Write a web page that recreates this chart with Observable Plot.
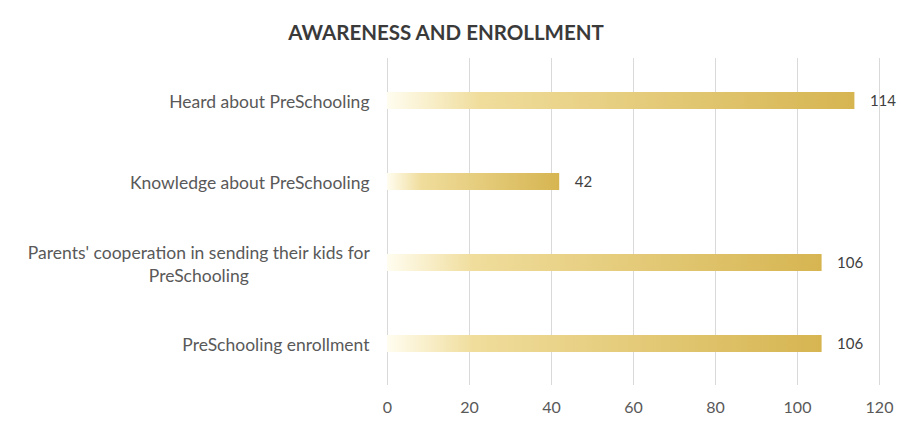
<!DOCTYPE html>
<html>
<head>
<meta charset="utf-8">
<script src="https://cdn.jsdelivr.net/npm/d3@7"></script>
<script src="https://cdn.jsdelivr.net/npm/@observablehq/plot@0.6"></script>
<style>
  body { margin: 0; background: #fff; }
  #title { height: 50px; width: 892px; padding-right: 16px; text-align: center; font-family: Lato, sans-serif; font-weight: bold; font-size: 20.5px; color: #3a3a3a; line-height: 64px; }
  svg text { font-family: Lato, sans-serif; }
</style>
</head>
<body>
<div id="title">AWARENESS AND ENROLLMENT</div>
<div id="chart"></div>
<script>
const categories = [
  "Heard about PreSchooling",
  "Knowledge about PreSchooling",
  "Parents' cooperation in sending their kids for\nPreSchooling",
  "PreSchooling enrollment"
];
const values = [114, 42, 106, 106];
const xTicks = [0, 20, 40, 60, 80, 100, 120];

const data = categories.map((c, i) => ({category: c, value: values[i]}));

const chart = Plot.plot({
  width: 908,
  height: 378,
  marginTop: 8,
  marginBottom: 43,
  marginLeft: 387,
  marginRight: 29,
  style: {fontSize: "16px", color: "#595959", background: "#fff"},
  x: {domain: [0, 120], ticks: xTicks, label: null},
  y: {domain: categories, padding: 0, label: null},
  marks: [
    Plot.gridX(xTicks, {stroke: "#d9d9d9", strokeOpacity: 1}),
    Plot.barX(data, {x: "value", y: "category", fill: "url(#goldGrad)", insetTop: 32, insetBottom: 32}),
    Plot.text(data, {x: "value", y: "category", text: d => String(d.value), dx: 15, textAnchor: "start", fill: "#404040", fontSize: 15}),
    Plot.axisX({ticks: xTicks, tickSize: 0, tickPadding: 16, fontSize: 16, color: "#595959"}),
    Plot.axisY({tickSize: 0, tickPadding: 18, fontSize: 17.5, color: "#595959", lineWidth: 100, lineHeight: 1.3})
  ]
});

const defs = document.createElementNS("http://www.w3.org/2000/svg", "defs");
defs.innerHTML = `<linearGradient id="goldGrad" x1="0" x2="1" y1="0" y2="0">
  <stop offset="0" stop-color="#fffdf0"/>
  <stop offset="0.2" stop-color="#f0dd9c"/>
  <stop offset="1" stop-color="#d6b551"/>
</linearGradient>`;
chart.insertBefore(defs, chart.firstChild);
document.getElementById("chart").appendChild(chart);

// Center the lines of the wrapped category label within its right-aligned block
chart.querySelectorAll("text").forEach(t => {
  const spans = t.querySelectorAll("tspan");
  if (spans.length > 1) {
    const bb = t.getBBox();
    const cx = bb.x + bb.width / 2;
    t.setAttribute("text-anchor", "middle");
    spans.forEach(s => s.setAttribute("x", cx));
  }
});
</script>
</body>
</html>
